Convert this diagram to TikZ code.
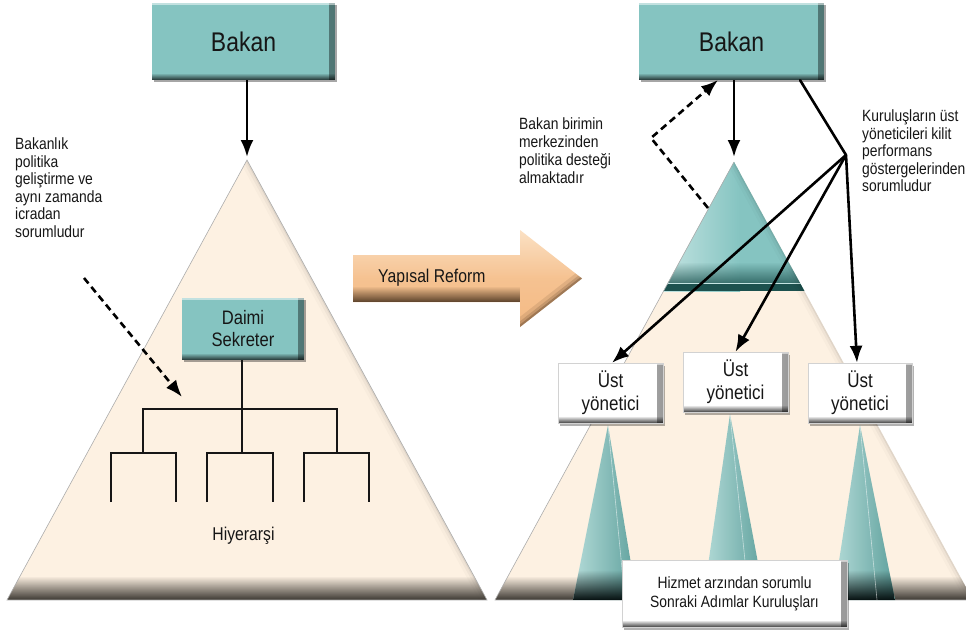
\documentclass[tikz,border=0pt]{standalone}
\usepackage{fontspec}
\setmainfont{Liberation Sans}[FakeStretch=0.85]
\usetikzlibrary{arrows.meta,shadows,calc,fadings}

\definecolor{tealbox}{HTML}{85C4C1}
\definecolor{tealdeep}{HTML}{1C514E}
\definecolor{tealpale}{HTML}{C4E4E2}
\definecolor{conelight}{HTML}{B4DBD8}
\definecolor{conedark}{HTML}{5FA19D}
\definecolor{cream}{HTML}{FDF1E2}
\definecolor{creamedge}{HTML}{3B3731}
\definecolor{peachlight}{HTML}{FBE1C4}
\definecolor{peach}{HTML}{F4BA84}
\definecolor{peachshade}{HTML}{4A3420}
\definecolor{ink}{HTML}{161616}

\tikzfading[name=fadeup, top color=transparent!100, bottom color=transparent!0]
\tikzfading[name=fadeleft, left color=transparent!100, right color=transparent!0]

\tikzset{
  boxbevel/.style={path picture={
    \fill[black, opacity=0.40, path fading=fadeleft]
      ([xshift=-6pt]path picture bounding box.north east) rectangle (path picture bounding box.south east);
    \fill[black, opacity=0.75, path fading=fadeup]
      ([yshift=7pt]path picture bounding box.south west) rectangle (path picture bounding box.south east);
    \fill[white, opacity=0.5]
      (path picture bounding box.north west) rectangle ([yshift=-1.5pt]path picture bounding box.north east);
  }},
  tealnode/.style={rectangle, inner sep=0pt, fill=tealbox, text=ink, align=center, boxbevel,
    drop shadow={shadow xshift=1.5pt, shadow yshift=-2pt, fill=black, opacity=0.35}},
  whitenode/.style={rectangle, inner sep=0pt, fill=white, text=ink, align=center, boxbevel,
    draw=gray!35, line width=0.4pt,
    drop shadow={shadow xshift=2pt, shadow yshift=-2.5pt, fill=black, opacity=0.3}},
  solidarrow/.style={draw=black, line width=2.6pt, -{Latex[length=17pt,width=13pt]}},
  dasharrow/.style={solidarrow, dash pattern=on 7pt off 4.5pt},
  plainline/.style={draw=black, line width=2.6pt, line cap=round},
  orgline/.style={draw=ink, line width=1.3pt},
  note/.style={anchor=north west, inner sep=0pt, align=left, text=ink,
    font=\fontsize{16.3}{17.5}\selectfont},
  edgeline/.style={draw=gray!65, line width=0.6pt},
}

\begin{document}
\begin{tikzpicture}[x=1pt,y=-1pt]
\useasboundingbox (0,0) rectangle (966,632);
\clip (0,0) rectangle (966,632);
\fill[white] (0,0) rectangle (966,632);

% corner points of the two pyramids
\coordinate (apexL) at (247,160);
\coordinate (baseLW) at (7,600);
\coordinate (baseLE) at (487,600);
\coordinate (apexR) at (734,162);
\coordinate (baseRW) at (495,600);
\coordinate (baseRE) at (973,600);

% ---------- left pyramid: hierarchy ----------
\begin{scope}
  \clip (apexL) -- (baseLW) -- (baseLE) -- cycle;
  \fill[cream] (0,150) rectangle (500,600);
  \foreach \w/\o in {14/0.02, 8/0.035, 3/0.06}
    \draw[black, line width=\w pt, opacity=\o] (apexL) -- (baseLE);
  \fill[creamedge, path fading=fadeup] (0,576) rectangle (500,600);
\end{scope}
\draw[edgeline] (apexL) -- (baseLW) -- (baseLE) -- cycle;

% ---------- right pyramid: reformed structure ----------
\begin{scope}
  \clip (apexR) -- (baseRW) -- (baseRE) -- cycle;
  \fill[cream] (480,150) rectangle (980,600);
  \fill[tealbox] (600,150) rectangle (900,291);
  \shade[left color=tealpale, right color=tealbox] (662,150) rectangle (740,291);
  \fill[tealdeep, opacity=0.75, path fading=fadeup] (600,262) rectangle (900,283);
  \fill[tealpale] (600,282.5) rectangle (900,284);
  \fill[tealdeep] (600,284) rectangle (900,291);
  \foreach \w/\o in {14/0.02, 8/0.035, 3/0.06}
    \draw[black, line width=\w pt, opacity=\o] (apexR) -- (baseRE);
  \fill[creamedge, path fading=fadeup] (480,576) rectangle (980,600);
\end{scope}
\draw[edgeline] (apexR) -- (baseRW) -- (baseRE);

% teal cones below each senior manager
\foreach \ax/\ay/\bl/\br/\hl in {608/425/573/637/625, 730/414/703/765/749, 860/425/833/895/877}{
  \begin{scope}
    \clip (\ax,\ay) -- (\bl,600) -- (\br,600) -- cycle;
    \shade[left color=conelight, right color=conedark] (\bl,\ay) rectangle (\br,600);
    \fill[black!80!tealdeep, path fading=fadeup] (\bl,570) rectangle (\br,600);
  \end{scope}
  \draw[white, opacity=0.55, line width=0.6pt] (\ax,\ay) -- (\hl,600);
}

% ---------- reform arrow ----------
\shade[top color=peachlight, bottom color=peach, middle color=peach!80!peachlight]
  (353,255) -- (520,255) -- (520,230) -- (582,278.5) -- (520,327) -- (520,302) -- (353,302) -- cycle;
\begin{scope}
  \clip (353,255) -- (520,255) -- (520,230) -- (582,278.5) -- (520,327) -- (520,302) -- (353,302) -- cycle;
  \fill[peachshade, opacity=0.9, path fading=fadeup] (353,286) rectangle (520,302);
  \foreach \w/\o in {16/0.12, 9/0.18, 4/0.3}
    \draw[peachshade, line width=\w pt, opacity=\o] (582,278.5) -- (520,327);
\end{scope}
\node[anchor=base west, inner sep=0pt, text=ink, font=\fontsize{18.5}{20}\selectfont]
  (reform) at (378,282) {Yapısal Reform};

% ---------- left side boxes and hierarchy lines ----------
\node[tealnode, minimum width=183pt, minimum height=77pt, font=\fontsize{27}{30}\selectfont]
  (bakanL) at (243.5,41.5) {Bakan};
\node[tealnode, minimum width=122pt, minimum height=62pt, font=\fontsize{19.5}{22}\selectfont]
  (daimi) at (243,329) {Daimi\\Sekreter};

\coordinate (j0) at (242,409);
\draw[orgline] (daimi.south -| j0) -- (j0) -- (242,453);
\draw[orgline] (143,453) -- (143,409) -- (337,409) -- (337,453);
\draw[orgline] (111,502) -- (111,453) -- (176,453) -- (176,502);
\draw[orgline] (207,502) -- (207,453) -- (273,453) -- (273,502);
\draw[orgline] (304,502) -- (304,453) -- (369,453) -- (369,502);

\node[anchor=base, inner sep=0pt, text=ink, font=\fontsize{18.5}{20}\selectfont]
  (hier) at (243.5,540) {Hiyerarşi};

\node[note] (noteL) at (15,137.5)
  {Bakanlık\\politika\\geliştirme ve\\aynı zamanda\\icradan\\sorumludur};

% ---------- right side boxes ----------
\node[tealnode, minimum width=185pt, minimum height=77pt, font=\fontsize{27}{30}\selectfont]
  (bakanR) at (731.5,41.5) {Bakan};
\node[whitenode, minimum width=105pt, minimum height=60pt, font=\fontsize{20}{23}\selectfont]
  (ust1) at (610.5,393) {Üst\\yönetici};
\node[whitenode, minimum width=105pt, minimum height=60pt, font=\fontsize{20}{23}\selectfont]
  (ust2) at (735.5,382) {Üst\\yönetici};
\node[whitenode, minimum width=104pt, minimum height=60pt, font=\fontsize{20}{23}\selectfont]
  (ust3) at (860,393) {Üst\\yönetici};
\node[whitenode, minimum width=225pt, minimum height=67pt, font=\fontsize{16.3}{19}\selectfont]
  (hizmet) at (734.5,593.5) {Hizmet arzından sorumlu\\Sonraki Adımlar Kuruluşları};

\node[note, font=\fontsize{16.3}{18}\selectfont] (noteM) at (519,117.5)
  {Bakan birimin\\merkezinden\\politika desteği\\almaktadır};
\node[note] (noteR) at (862,109.5)
  {Kuruluşların üst\\yöneticileri kilit\\performans\\göstergelerinden\\sorumludur};

% ---------- connectors ----------
\coordinate (tipL) at (247,157);
\draw[solidarrow] (bakanL.south -| tipL) -- (tipL);

\coordinate (dashStartL) at (84,278);
\coordinate (dashTipL) at (182,397);
\draw[dasharrow] (dashStartL) -- (dashTipL);

\coordinate (tipR) at (734,157);
\draw[solidarrow] (bakanR.south -| tipR) -- (tipR);

\coordinate (dashStartR) at (708,208);
\coordinate (dashBend) at (651,138);
\coordinate (dashTipR) at (718,80);
\draw[dasharrow] (dashStartR) -- (dashBend) -- (dashTipR);

\coordinate (hub) at (846,155);
\draw[plainline] ($(bakanR.south west)!0.87!(bakanR.south east)$) -- (hub);
\draw[solidarrow] (hub) -- ($(ust1.north)+(1.5,0)$);
\draw[solidarrow] (hub) -- (ust2.north);
\draw[solidarrow] (hub) -- ($(ust3.north)+(-3,0)$);
\end{tikzpicture}
\end{document}
